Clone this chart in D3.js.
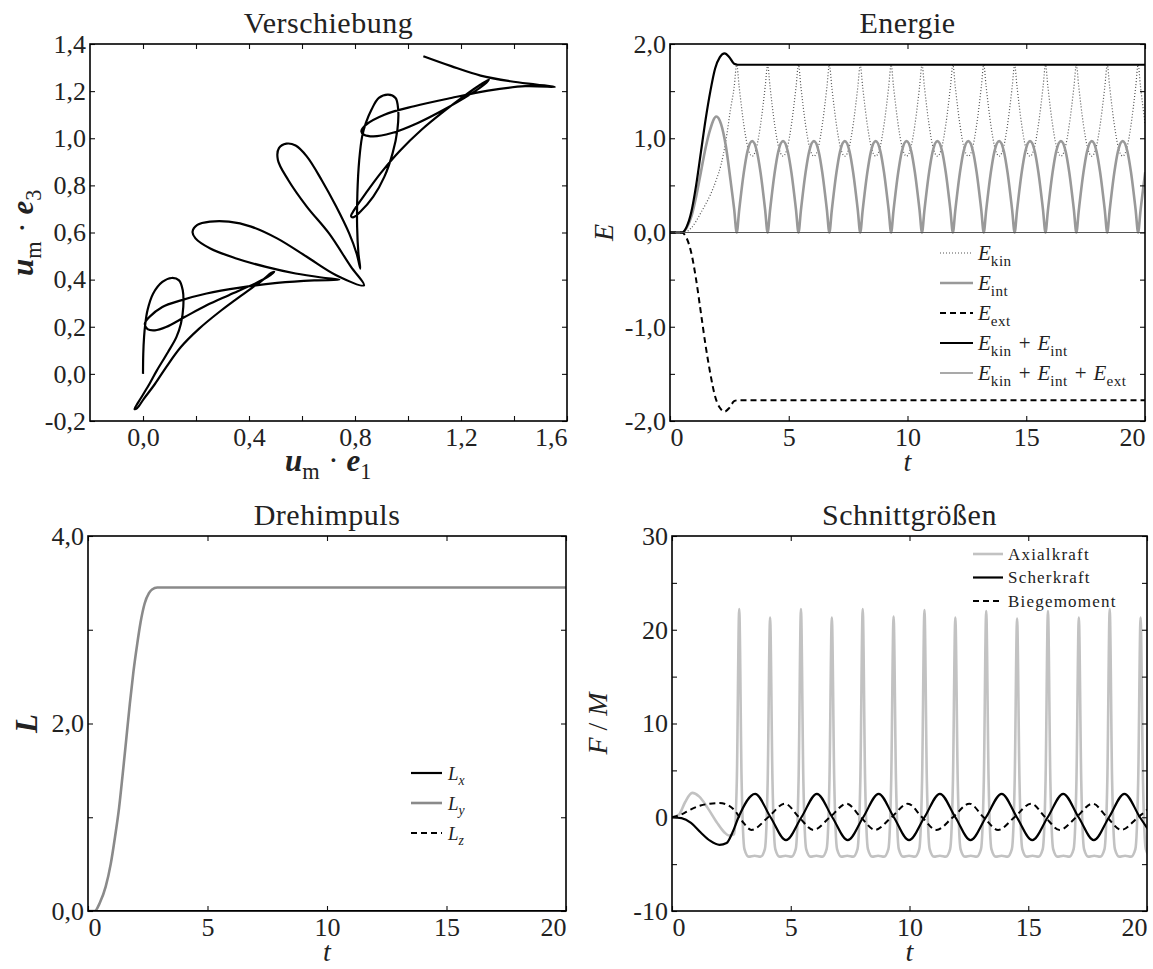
<!DOCTYPE html>
<html>
<head>
<meta charset="utf-8">
<script src="https://cdn.jsdelivr.net/npm/d3@7"></script>
<style>
  body { margin: 0; background: #fff; }
  svg { display: block; }
  svg text { font-family: 'Liberation Serif', 'Times New Roman', Times, 'DejaVu Serif', serif; fill: #222; }
</style>
</head>
<body>
<svg id="fig" width="1153" height="969"></svg>
<script>
/*
 * Data
 */

// Verschiebung: path of the midpoint, x = u_m.e1, y = u_m.e3
var dispX = [0, 0.001, 0.004, 0.008, 0.017, 0.038, 0.073, 0.108, 0.136, 0.15,
  0.152, 0.143, 0.126, 0.094, 0.052, 0.017, -0.018, -0.032, -0.022, 0.003,
  0.045, 0.087, 0.143, 0.212, 0.296, 0.38, 0.45, 0.485, 0.495, 0.471,
  0.422, 0.324, 0.24, 0.157, 0.087, 0.045, 0.017, 0.007, 0.024, 0.073,
  0.143, 0.24, 0.366, 0.506, 0.646, 0.741, 0.674, 0.576, 0.464, 0.352,
  0.254, 0.198, 0.187, 0.205, 0.254, 0.324, 0.408, 0.506, 0.618, 0.729,
  0.834, 0.785, 0.702, 0.618, 0.548, 0.509, 0.513, 0.541, 0.576, 0.618,
  0.674, 0.729, 0.778, 0.806, 0.82, 0.813, 0.808, 0.809, 0.816, 0.827,
  0.841, 0.862, 0.89, 0.925, 0.953, 0.963, 0.96, 0.942, 0.911, 0.869,
  0.82, 0.792, 0.785, 0.797, 0.841, 0.897, 0.967, 1.051, 1.135, 1.219,
  1.274, 1.305, 1.288, 1.233, 1.135, 1.037, 0.939, 0.869, 0.834, 0.824,
  0.841, 0.911, 1.023, 1.163, 1.302, 1.442, 1.554, 1.484, 1.386, 1.274,
  1.163, 1.058];
var dispY = [0, 0.085, 0.156, 0.206, 0.27, 0.34, 0.39, 0.407, 0.397, 0.355,
  0.284, 0.213, 0.156, 0.092, 0.014, -0.057, -0.121, -0.149, -0.145, -0.106,
  -0.043, 0.028, 0.114, 0.192, 0.27, 0.34, 0.397, 0.429, 0.433, 0.412,
  0.383, 0.334, 0.291, 0.241, 0.199, 0.185, 0.19, 0.213, 0.241, 0.284,
  0.312, 0.341, 0.366, 0.386, 0.397, 0.40, 0.409, 0.426, 0.454, 0.49,
  0.532, 0.575, 0.603, 0.632, 0.646, 0.646, 0.625, 0.575, 0.497, 0.419,
  0.376, 0.454, 0.596, 0.71, 0.823, 0.908, 0.958, 0.977, 0.969, 0.923,
  0.823, 0.71, 0.596, 0.511, 0.447, 0.511, 0.625, 0.766, 0.908, 1.008,
  1.065, 1.121, 1.171, 1.185, 1.171, 1.121, 1.036, 0.937, 0.837, 0.752,
  0.688, 0.664, 0.67, 0.696, 0.767, 0.852, 0.944, 1.036, 1.114, 1.185,
  1.228, 1.249, 1.228, 1.185, 1.121, 1.065, 1.022, 1.008, 1.015, 1.029,
  1.057, 1.1, 1.136, 1.171, 1.202, 1.221, 1.218, 1.228, 1.242, 1.266,
  1.306, 1.348];

// Energie: E_kin and E_int share one time grid
var energyT = [0, 0.5, 0.7, 0.9, 1.1, 1.3, 1.5, 1.7, 1.95, 2.15, 2.35, 2.55, 2.7,
  2.81, 2.91, 3.11, 3.26, 3.46, 3.66, 3.81, 4.01,
  4.11, 4.21, 4.41, 4.56, 4.76, 4.96, 5.11, 5.31,
  5.41, 5.51, 5.71, 5.86, 6.06, 6.26, 6.41, 6.61,
  6.71, 6.81, 7.01, 7.16, 7.36, 7.56, 7.71, 7.91,
  8.01, 8.11, 8.31, 8.46, 8.66, 8.86, 9.01, 9.21,
  9.31, 9.41, 9.61, 9.76, 9.96, 10.16, 10.31, 10.51,
  10.61, 10.71, 10.91, 11.06, 11.26, 11.46, 11.61, 11.81,
  11.91, 12.01, 12.21, 12.36, 12.56, 12.76, 12.91, 13.11,
  13.21, 13.31, 13.51, 13.66, 13.86, 14.06, 14.21, 14.41,
  14.51, 14.61, 14.81, 14.96, 15.16, 15.36, 15.51, 15.71,
  15.81, 15.91, 16.11, 16.26, 16.46, 16.66, 16.81, 17.01,
  17.11, 17.21, 17.41, 17.56, 17.76, 17.96, 18.11, 18.31,
  18.41, 18.51, 18.71, 18.86, 19.06, 19.26, 19.41, 19.61,
  19.71, 19.81, 20.01];
var eInt = [0, 0, 0.05, 0.17, 0.38, 0.64, 0.9, 1.1, 1.23, 1.15, 0.92, 0.55, 0.25,
  0, 0.23, 0.64, 0.86, 0.97, 0.86, 0.64, 0.23,
  0, 0.23, 0.64, 0.86, 0.97, 0.86, 0.64, 0.23,
  0, 0.23, 0.64, 0.86, 0.97, 0.86, 0.64, 0.23,
  0, 0.23, 0.64, 0.86, 0.97, 0.86, 0.64, 0.23,
  0, 0.23, 0.64, 0.86, 0.97, 0.86, 0.64, 0.23,
  0, 0.23, 0.64, 0.86, 0.97, 0.86, 0.64, 0.23,
  0, 0.23, 0.64, 0.86, 0.97, 0.86, 0.64, 0.23,
  0, 0.23, 0.64, 0.86, 0.97, 0.86, 0.64, 0.23,
  0, 0.23, 0.64, 0.86, 0.97, 0.86, 0.64, 0.23,
  0, 0.23, 0.64, 0.86, 0.97, 0.86, 0.64, 0.23,
  0, 0.23, 0.64, 0.86, 0.97, 0.86, 0.64, 0.23,
  0, 0.23, 0.64, 0.86, 0.97, 0.86, 0.64, 0.23,
  0, 0.23, 0.64, 0.86, 0.97, 0.86, 0.64, 0.23,
  0, 0.23, 0.64];
var eKin = [0, 0, 0.01, 0.05, 0.12, 0.21, 0.3, 0.4, 0.56, 0.72, 0.97, 1.31, 1.54,
  1.78, 1.55, 1.14, 0.92, 0.81, 0.92, 1.14, 1.55,
  1.78, 1.55, 1.14, 0.92, 0.81, 0.92, 1.14, 1.55,
  1.78, 1.55, 1.14, 0.92, 0.81, 0.92, 1.14, 1.55,
  1.78, 1.55, 1.14, 0.92, 0.81, 0.92, 1.14, 1.55,
  1.78, 1.55, 1.14, 0.92, 0.81, 0.92, 1.14, 1.55,
  1.78, 1.55, 1.14, 0.92, 0.81, 0.92, 1.14, 1.55,
  1.78, 1.55, 1.14, 0.92, 0.81, 0.92, 1.14, 1.55,
  1.78, 1.55, 1.14, 0.92, 0.81, 0.92, 1.14, 1.55,
  1.78, 1.55, 1.14, 0.92, 0.81, 0.92, 1.14, 1.55,
  1.78, 1.55, 1.14, 0.92, 0.81, 0.92, 1.14, 1.55,
  1.78, 1.55, 1.14, 0.92, 0.81, 0.92, 1.14, 1.55,
  1.78, 1.55, 1.14, 0.92, 0.81, 0.92, 1.14, 1.55,
  1.78, 1.55, 1.14, 0.92, 0.81, 0.92, 1.14, 1.55,
  1.78, 1.55, 1.14];
var sumT     = [0, 0.5, 0.7, 0.9, 1.1, 1.3, 1.5, 1.7, 1.9, 2.1, 2.3, 2.5, 2.7, 2.85, 20];
var eKinInt  = [0, 0, 0.06, 0.22, 0.5, 0.85, 1.2, 1.5, 1.74, 1.86, 1.9, 1.86, 1.79, 1.78, 1.78];
var eExt     = [0, 0, -0.06, -0.22, -0.5, -0.85, -1.2, -1.5, -1.74, -1.86, -1.9, -1.86, -1.79, -1.78, -1.78];
var totalT   = [0, 20];
var eTotal   = [0, 0];

// Drehimpuls
var lT  = [0, 0.28, 0.5, 0.74, 0.95, 1.13, 1.3, 1.44, 1.6, 1.75, 1.9, 2.06, 2.2, 2.37, 2.55, 2.68, 2.9, 20];
var lY  = [0, 0, 0.09, 0.26, 0.5, 0.79, 1.1, 1.43, 1.83, 2.21, 2.55, 2.85, 3.08, 3.28, 3.39, 3.43, 3.45, 3.45];
var lFlatT = [0, 20];
var lX  = [0, 0];
var lZ  = [0, 0];

// Schnittgroessen
var axialkraft = [[0, 0], [0.3, 0.3], [0.55, 1.6], [0.85, 2.6], [1.15, 2.2], [1.5, 1.0], [1.9, -0.6], [2.2, -1.6], [2.4, -1.95], [2.62, -1.8],
  [2.73, 4], [2.83, 22.2], [2.93, 4], [3.05, -3.4], [3.23, -4.2], [3.48, -4.1], [3.73, -4.2],
  [3.91, -3.4], [4.03, 4], [4.13, 21.3], [4.23, 4], [4.35, -3.4], [4.53, -4.2], [4.78, -4.1], [5.03, -4.2],
  [5.21, -3.4], [5.33, 4], [5.43, 22.2], [5.53, 4], [5.65, -3.4], [5.83, -4.2], [6.08, -4.1], [6.33, -4.2],
  [6.51, -3.4], [6.63, 4], [6.73, 21.3], [6.83, 4], [6.95, -3.4], [7.13, -4.2], [7.38, -4.1], [7.63, -4.2],
  [7.81, -3.4], [7.93, 4], [8.03, 22.2], [8.13, 4], [8.25, -3.4], [8.43, -4.2], [8.68, -4.1], [8.93, -4.2],
  [9.11, -3.4], [9.23, 4], [9.33, 21.4], [9.43, 4], [9.55, -3.4], [9.73, -4.2], [9.98, -4.1], [10.23, -4.2],
  [10.41, -3.4], [10.53, 4], [10.63, 22.1], [10.73, 4], [10.85, -3.4], [11.03, -4.2], [11.28, -4.1], [11.53, -4.2],
  [11.71, -3.4], [11.83, 4], [11.93, 21.3], [12.03, 4], [12.15, -3.4], [12.33, -4.2], [12.58, -4.1], [12.83, -4.2],
  [13.01, -3.4], [13.13, 4], [13.23, 22.0], [13.33, 4], [13.45, -3.4], [13.63, -4.2], [13.88, -4.1], [14.13, -4.2],
  [14.31, -3.4], [14.43, 4], [14.53, 21.2], [14.63, 4], [14.75, -3.4], [14.93, -4.2], [15.18, -4.1], [15.43, -4.2],
  [15.61, -3.4], [15.73, 4], [15.83, 22.0], [15.93, 4], [16.05, -3.4], [16.23, -4.2], [16.48, -4.1], [16.73, -4.2],
  [16.91, -3.4], [17.03, 4], [17.13, 21.3], [17.23, 4], [17.35, -3.4], [17.53, -4.2], [17.78, -4.1], [18.03, -4.2],
  [18.21, -3.4], [18.33, 4], [18.43, 22.2], [18.53, 4], [18.65, -3.4], [18.83, -4.2], [19.08, -4.1], [19.33, -4.2],
  [19.51, -3.4], [19.63, 4], [19.73, 21.3], [19.83, 4], [19.95, -3.4], [20.13, -4.2]];
var scherT = [0, 0.4, 0.8, 1.2, 1.6, 2.0, 2.3, 2.55, 2.8, 3.5, 4.15, 4.8, 5.45, 6.1, 6.75, 7.4, 8.05, 8.7, 9.34, 9.98,
  10.63, 11.28, 11.93, 12.57, 13.22, 13.88, 14.52, 15.17, 15.82, 16.47, 17.12, 17.76, 18.4, 19.05, 19.7, 20.35];
var scherF = [0, -0.1, -0.6, -1.6, -2.5, -2.95, -2.75, -1.6, 0, 2.5, 0, -2.45, 0, 2.5, 0, -2.45, 0, 2.5, 0, -2.45,
  0, 2.5, 0, -2.45, 0, 2.5, 0, -2.45, 0, 2.5, 0, -2.45, 0, 2.5, 0, -2.45];
var biegeT = [0, 0.4, 0.8, 1.2, 1.6, 2.0, 2.35, 2.65, 2.95, 3.35, 4.05, 4.75, 5.35, 5.95, 6.65, 7.35, 7.95, 8.55, 9.24, 9.93,
  10.53, 11.13, 11.83, 12.52, 13.12, 13.73, 14.42, 15.12, 15.72, 16.32, 17.02, 17.71, 18.32, 18.92, 19.62, 20.32];
var biegeM = [0, 0.3, 0.85, 1.25, 1.45, 1.52, 1.3, 0.7, -0.4, -1.35, 0, 1.45, 0, -1.35, 0, 1.45, 0, -1.35, 0, 1.45,
  0, -1.35, 0, 1.45, 0, -1.35, 0, 1.45, 0, -1.35, 0, 1.45, 0, -1.35, 0, 1.45];

// ticks
var dispXTicks = [0, 0.2, 0.4, 0.6, 0.8, 1.0, 1.2, 1.4, 1.6];
var dispXLabels = [0, 0.4, 0.8, 1.2, 1.6];
var dispYTicks = [-0.2, 0, 0.2, 0.4, 0.6, 0.8, 1.0, 1.2, 1.4];
var timeTicks = [0, 5, 10, 15, 20];
var energyYTicks = [-2, -1.5, -1, -0.5, 0, 0.5, 1, 1.5, 2];
var energyYLabels = [-2, -1, 0, 1, 2];
var lYTicks = [0, 1, 2, 3, 4];
var lYLabels = [0, 2, 4];
var forceYTicks = [-10, -5, 0, 5, 10, 15, 20, 25, 30];
var forceYLabels = [-10, 0, 10, 20, 30];

/*
 * Helpers
 */
var svg = d3.select('#fig');
var FONT = "'Liberation Serif', 'Times New Roman', Times, 'DejaVu Serif', serif";
var loc = d3.formatLocale({ decimal: ',', thousands: '.', grouping: [3], currency: ['', ''], minus: '-' });
var fmt1 = loc.format('.1f'),
    fmt0 = loc.format('d');

function has(list, v) {
  return list.some(function(d) { return Math.abs(d - v) < 1e-9; });
}

// text with italic / bold / subscript parts; p[2] = extra space before the part
function rich(el, parts, size) {
  var shift = 0;
  parts.forEach(function(p) {
    var st = p[1] || '';
    var sub = st.indexOf('s') >= 0;
    var ts = el.append('tspan').text(p[0])
      .style('font-family', FONT)
      .style('font-size', (sub ? size * 0.72 : size) + 'px');
    if (st.indexOf('i') >= 0) ts.style('font-style', 'italic');
    if (st.indexOf('b') >= 0) ts.style('font-weight', 'bold');
    if (sub) ts.style('letter-spacing', '0.5px');
    if (p[2]) ts.attr('dx', p[2]);
    var want = sub ? size * 0.27 : 0;
    if (want !== shift) { ts.attr('dy', want - shift); shift = want; }
  });
}

function makePanel(o) {
  var b = o.box; // [left, right, top, bottom]
  var x = d3.scaleLinear().domain(o.xDomain).range([b[0], b[1]]);
  var y = d3.scaleLinear().domain(o.yDomain).range([b[3], b[2]]);
  var g = svg.append('g').attr('class', 'panel-' + o.name);

  g.append('clipPath').attr('id', 'clip-' + o.name).append('rect')
    .attr('x', b[0]).attr('y', b[2])
    .attr('width', b[1] - b[0]).attr('height', b[3] - b[2]);
  var plot = g.append('g').attr('clip-path', 'url(#clip-' + o.name + ')');

  // ticks on all four sides, pointing inwards
  var bottom = g.append('g').attr('transform', 'translate(0,' + b[3] + ')')
    .call(d3.axisBottom(x).tickValues(o.xTicks).tickSizeInner(-5).tickSizeOuter(0).tickPadding(7)
      .tickFormat(function(d) { return has(o.xLabels, d) ? o.xFmt(d) : ''; }));
  g.append('g').attr('transform', 'translate(0,' + b[2] + ')')
    .call(d3.axisTop(x).tickValues(o.xTicks).tickSizeInner(-5).tickSizeOuter(0).tickFormat(''));
  var left = g.append('g').attr('transform', 'translate(' + b[0] + ',0)')
    .call(d3.axisLeft(y).tickValues(o.yTicks).tickSizeInner(-5).tickSizeOuter(0).tickPadding(4)
      .tickFormat(function(d) { return has(o.yLabels, d) ? o.yFmt(d) : ''; }));
  g.append('g').attr('transform', 'translate(' + b[1] + ',0)')
    .call(d3.axisRight(y).tickValues(o.yTicks).tickSizeInner(-5).tickSizeOuter(0).tickFormat(''));

  g.selectAll('.domain').remove();
  g.selectAll('.tick line').attr('stroke', '#111').attr('stroke-width', 1.1);
  [bottom, left].forEach(function(a) {
    a.attr('font-family', FONT).attr('font-size', 26);
    a.selectAll('text').attr('fill', '#222').style('font-family', FONT).style('font-size', '26px');
  });
  // first / last label of the time axis sit inside the frame
  bottom.selectAll('.tick text')
    .attr('text-anchor', function(d) {
      if (o.alignStart && d === o.xDomain[0]) return 'start';
      if (d === o.xDomain[1]) return 'end';
      return 'middle';
    });

  g.append('rect')
    .attr('x', b[0]).attr('y', b[2])
    .attr('width', b[1] - b[0]).attr('height', b[3] - b[2])
    .attr('fill', 'none').attr('stroke', '#000').attr('stroke-width', 1.6);

  g.append('text')
    .attr('x', (b[0] + b[1]) / 2).attr('y', b[2] - 11)
    .attr('text-anchor', 'middle')
    .style('font-family', FONT)
    .style('font-size', '30px').style('letter-spacing', '0.5px')
    .text(o.title);

  var xl = g.append('text')
    .attr('x', (b[0] + b[1]) / 2).attr('y', b[3] + 50)
    .attr('text-anchor', 'middle');
  rich(xl, o.xLabel, o.xLabelSize || 28);

  var yl = g.append('text')
    .attr('transform', 'translate(' + o.yLabelX + ',' + ((b[2] + b[3]) / 2) + ')rotate(-90)')
    .attr('text-anchor', 'middle');
  rich(yl, o.yLabel, o.yLabelSize || 28);

  return { x: x, y: y, plot: plot, g: g };
}

function drawSeries(p, pts, st, curve) {
  p.plot.append('path').datum(pts)
    .attr('d', d3.line()
      .x(function(d) { return p.x(d[0]); })
      .y(function(d) { return p.y(d[1]); })
      .curve(curve || d3.curveMonotoneX))
    .attr('fill', 'none')
    .attr('stroke', st.color)
    .attr('stroke-width', st.width)
    .attr('stroke-dasharray', st.dash || null)
    .attr('stroke-linejoin', 'round');
}

function zip(a, b) { return a.map(function(v, i) { return [v, b[i]]; }); }

function legend(x0, y0, dy, len, gap, size, items, spacing) {
  items.forEach(function(it, i) {
    var yy = y0 + i * dy;
    svg.append('line')
      .attr('x1', x0).attr('x2', x0 + len).attr('y1', yy).attr('y2', yy)
      .attr('stroke', it.st.color).attr('stroke-width', it.st.width)
      .attr('stroke-dasharray', it.st.dash || null);
    var t = svg.append('text')
      .attr('x', x0 + len + gap).attr('y', yy + size * 0.35)
      .style('letter-spacing', spacing || null);
    rich(t, it.label, size);
  });
}

// line styles
var sBlack  = { color: '#000', width: 2.2 };
var sDash   = { color: '#000', width: 2.0, dash: '6,4' };
var sDot    = { color: '#555', width: 1.2, dash: '1,2' };
var sThin   = { color: '#555', width: 1.1 };
var sGray   = { color: '#999', width: 2.6 };
var sGrayL  = { color: '#8a8a8a', width: 2.6 };
var sLight  = { color: '#c2c2c2', width: 2.6 };

/*
 * Verschiebung
 */
var p1 = makePanel({
  name: 'disp', box: [90, 567, 44, 421],
  xDomain: [-0.2, 1.6], yDomain: [-0.2, 1.4],
  xTicks: dispXTicks, xLabels: dispXLabels, xFmt: fmt1,
  yTicks: dispYTicks, yLabels: dispYTicks, yFmt: fmt1,
  alignStart: false,
  title: 'Verschiebung',
  xLabel: [['u', 'bi'], ['m', 's'], ['·', '', 8], ['e', 'bi', 8], ['1', 's']],
  yLabel: [['u', 'bi'], ['m', 's'], ['·', '', 8], ['e', 'bi', 8], ['3', 's']],
  xLabelSize: 31, yLabelSize: 31,
  yLabelX: 33
});
drawSeries(p1, zip(dispX, dispY), sBlack, d3.curveCatmullRom.alpha(0.5));

/*
 * Energie
 */
var p2 = makePanel({
  name: 'energy', box: [670, 1145, 44, 421],
  xDomain: [0, 20], yDomain: [-2, 2],
  xTicks: timeTicks, xLabels: timeTicks, xFmt: fmt0,
  yTicks: energyYTicks, yLabels: energyYLabels, yFmt: fmt1,
  alignStart: true,
  title: 'Energie',
  xLabel: [['t', 'i']],
  yLabel: [['E', 'i']],
  yLabelX: 613
});
drawSeries(p2, zip(energyT, eKin), sDot);
drawSeries(p2, zip(energyT, eInt), sGray);
drawSeries(p2, zip(sumT, eExt), sDash);
drawSeries(p2, zip(sumT, eKinInt), sBlack);
drawSeries(p2, zip(totalT, eTotal), sThin, d3.curveLinear);

legend(940, 253, 30, 33, 5, 21, [
  { st: sDot,   label: [['E', 'i'], ['kin', 's']] },
  { st: sGray,  label: [['E', 'i'], ['int', 's']] },
  { st: sDash,  label: [['E', 'i'], ['ext', 's']] },
  { st: sBlack, label: [['E', 'i'], ['kin', 's'], ['+', '', 7], ['E', 'i', 7], ['int', 's']] },
  { st: sThin,  label: [['E', 'i'], ['kin', 's'], ['+', '', 7], ['E', 'i', 7], ['int', 's'], ['+', '', 7], ['E', 'i', 7], ['ext', 's']] }
]);

/*
 * Drehimpuls
 */
var p3 = makePanel({
  name: 'ang', box: [88, 566, 536, 911],
  xDomain: [0, 20], yDomain: [0, 4],
  xTicks: timeTicks, xLabels: timeTicks, xFmt: fmt0,
  yTicks: lYTicks, yLabels: lYLabels, yFmt: fmt1,
  alignStart: true,
  title: 'Drehimpuls',
  xLabel: [['t', 'i']],
  yLabel: [['L', 'bi']],
  yLabelX: 37, yLabelSize: 31
});
drawSeries(p3, zip(lT, lY), sGrayL);
drawSeries(p3, zip(lFlatT, lX), sBlack, d3.curveLinear);
drawSeries(p3, zip(lFlatT, lZ), sDash, d3.curveLinear);

legend(411, 773, 30, 31, 6, 19, [
  { st: sBlack, label: [['L', 'i'], ['x', 'is']] },
  { st: sGrayL, label: [['L', 'i'], ['y', 'is']] },
  { st: sDash,  label: [['L', 'i'], ['z', 'is']] }
]);

/*
 * Schnittgroessen
 */
var p4 = makePanel({
  name: 'force', box: [672, 1147, 536, 911],
  xDomain: [0, 20], yDomain: [-10, 30],
  xTicks: timeTicks, xLabels: timeTicks, xFmt: fmt0,
  yTicks: forceYTicks, yLabels: forceYLabels, yFmt: fmt0,
  alignStart: true,
  title: 'Schnittgrößen',
  xLabel: [['t', 'i']],
  yLabel: [['F', 'i'], [' / ', ''], ['M', 'i']],
  yLabelX: 607
});
drawSeries(p4, axialkraft, sLight);
drawSeries(p4, zip(scherT, scherF), sBlack);
drawSeries(p4, zip(biegeT, biegeM), sDash);

legend(973, 554, 23.5, 30, 5, 17, [
  { st: sLight, label: [['Axialkraft', '']] },
  { st: sBlack, label: [['Scherkraft', '']] },
  { st: sDash,  label: [['Biegemoment', '']] }
], '1.2px');
</script>
</body>
</html>
